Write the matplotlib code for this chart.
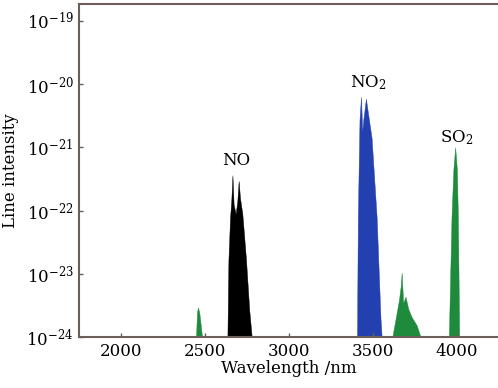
import numpy as np
import matplotlib
matplotlib.use('Agg')
import matplotlib.pyplot as plt

# ── 데이터 (밴드 외곽선: 파장 nm, log10 강도) ─────────────────
NO_WL    = [2633, 2639, 2649, 2656, 2663, 2670, 2682, 2692, 2700, 2708, 2722, 2744, 2763, 2778]
NO_LOG   = [-24.0, -22.78, -22.1, -21.85, -21.44, -21.9, -22.05, -21.85, -21.53, -21.8, -22.05, -22.78, -23.57, -24.0]

NO2_WL   = [3405, 3410, 3420, 3429, 3436, 3443, 3450, 3458, 3470, 3492, 3522, 3545, 3552]
NO2_LOG  = [-24.0, -22.1, -20.55, -20.20, -20.75, -20.55, -20.4, -20.23, -20.45, -20.85, -22.1, -23.7, -24.0]

SO2_WL   = [3952, 3968, 3979, 3990, 4000, 4006, 4014]
SO2_LOG  = [-24.0, -22.1, -21.35, -21.0, -21.35, -22.1, -24.0]

G1_WL    = [3615, 3641, 3655, 3665, 3671, 3676, 3680, 3694, 3710, 3730, 3760, 3784]
G1_LOG   = [-24.0, -23.62, -23.41, -23.2, -22.98, -23.25, -23.46, -23.36, -23.55, -23.68, -23.81, -24.0]

G2_WL    = [2446, 2452, 2458, 2466, 2482]
G2_LOG   = [-24.0, -23.6, -23.53, -23.62, -24.0]

BANDS = [
    (NO_WL,  NO_LOG,  'black'),
    (NO2_WL, NO2_LOG, '#2340b0'),
    (SO2_WL, SO2_LOG, '#1d8a3c'),
    (G1_WL,  G1_LOG,  '#1d8a3c'),
    (G2_WL,  G2_LOG,  '#1d8a3c'),
]

X_TICKS = [2000, 2500, 3000, 3500, 4000]
Y_EXPS  = [-24, -23, -22, -21, -20, -19]

LABELS = [('NO', 2687, -21.2), (r'NO$_2$', 3470, -19.97), (r'SO$_2$', 4000, -20.84)]

# ── 스타일 ─────────────────────────────────────────────────
plt.rcParams['font.family']      = ['DejaVu Serif']
plt.rcParams['mathtext.fontset'] = 'dejavuserif'
SPINE = '#6b5d57'

fig = plt.figure(figsize=(4.98, 3.88), dpi=100)
ax  = fig.add_axes([0.159, 0.131, 0.841, 0.859])

for wl, lg, color in BANDS:
    ax.fill_between(wl, 10.0 ** np.array(lg), 1e-24, color=color, lw=0.3,
                    edgecolor=color)

for txt, x, lg in LABELS:
    ax.text(x, 10.0 ** lg, txt, ha='center', va='center', fontsize=12)

ax.set_yscale('log')
ax.set_xlim(1750, 4245)
ax.set_ylim(1e-24, 10 ** -18.73)
ax.set_xticks(X_TICKS)
ax.set_xticklabels([str(t) for t in X_TICKS], fontsize=12)
ax.set_yticks([10.0 ** e for e in Y_EXPS])
ax.set_yticklabels([rf'$10^{{{e}}}$' for e in Y_EXPS], fontsize=12)
ax.yaxis.set_minor_locator(matplotlib.ticker.NullLocator())
ax.tick_params(direction='in', length=3, width=1, color=SPINE, pad=4)

ax.set_xlabel('Wavelength /nm', fontsize=12, labelpad=0)
ax.set_ylabel('Line intensity', fontsize=12, labelpad=5)

for side in ['left', 'bottom', 'top']:
    ax.spines[side].set_color(SPINE)
    ax.spines[side].set_linewidth(1.5)
ax.spines['right'].set_visible(False)

fig.savefig('out.png', dpi=100)
